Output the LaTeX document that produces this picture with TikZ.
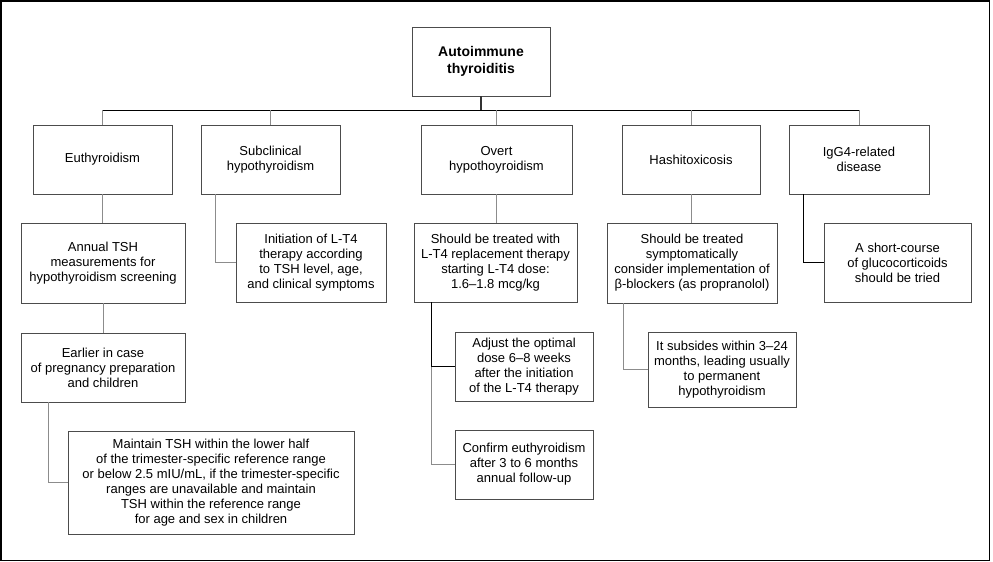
\documentclass[tikz,border=0pt]{standalone}
\usepackage{fontspec}
\setmainfont{Liberation Sans}
\begin{document}
\begin{tikzpicture}[x=1pt,y=-1pt,
  box/.style={draw=black!70, line width=1pt, fill=white, inner sep=0pt, outer sep=0pt,
    align=center, font=\fontsize{13}{15}\selectfont},
  conn/.style={draw=black!45, line width=1pt},
  darkconn/.style={draw=black, line width=1pt}]
\useasboundingbox (0,0) rectangle (993,562);
\draw[line width=1.5pt] (0.75,0.75) rectangle (989.5,560.5);

% level 0
\node[box, minimum width=138pt, minimum height=69pt, font=\fontsize{14}{17}\selectfont\bfseries] (root) at (481,61.5) {Autoimmune\\thyroiditis};

% level 1
\node[box, minimum width=139pt, minimum height=69pt] (eu) at (102.5,159.5) {Euthyroidism};
\node[box, minimum width=139pt, minimum height=69pt] (sub) at (270.5,159.5) {Subclinical\\hypothyroidism};
\node[box, minimum width=151pt, minimum height=69pt] (ovt) at (496.5,159.5) {Overt\\hypothoyroidism};
\node[box, minimum width=138pt, minimum height=69pt] (hash) at (691,159.5) {Hashitoxicosis};
\node[box, minimum width=140pt, minimum height=69pt] (igg) at (859,159.5) {IgG4-related\\disease};

% level 2
\node[box, minimum width=164pt, minimum height=80pt] (annual) at (103,263) {Annual TSH\\measurements for\\hypothyroidism screening};
\node[box, minimum width=150pt, minimum height=79pt] (init) at (311,262.5) {Initiation of L-T4\\therapy according\\to TSH level, age,\\and clinical symptoms};
\node[box, minimum width=163pt, minimum height=79pt] (should) at (495.5,262.5) {Should be treated with\\L-T4 replacement therapy\\starting L-T4 dose:\\1.6–1.8 mcg/kg};
\node[box, minimum width=170pt, minimum height=80pt] (symp) at (692,263) {Should be treated\\symptomatically\\consider implementation of\\β-blockers (as propranolol)};
\node[box, minimum width=147pt, minimum height=79pt] (gluco) at (897.5,262.5) {A short-course\\of glucocorticoids\\should be tried};

% level 3
\node[box, minimum width=164pt, minimum height=69pt] (earlier) at (103,367.5) {Earlier in case\\of pregnancy preparation\\and children};
\node[box, minimum width=138pt, minimum height=69pt] (adjust) at (524,366.5) {Adjust the optimal\\dose 6–8 weeks\\after the initiation\\of the L-T4 therapy};
\node[box, minimum width=148pt, minimum height=75pt] (subsides) at (722,369.5) {It subsides within 3–24\\months, leading usually\\to permanent\\hypothyroidism};
\node[box, minimum width=138pt, minimum height=69pt] (confirm) at (524,464.5) {Confirm euthyroidism\\after 3 to 6 months\\annual follow-up};
\node[box, minimum width=286pt, minimum height=103pt] (maintain) at (211,482.5) {Maintain TSH within the lower half\\of the trimester-specific reference range\\or below 2.5 mIU/mL, if the trimester-specific\\ranges are unavailable and maintain\\TSH within the reference range\\for age and sex in children};

% bus
\coordinate (bus) at (481,110);
\draw[draw=black!80, line width=2pt] (root.south) -- (bus);
\draw[darkconn] (eu.north |- bus) -- (igg.north |- bus);
\foreach \n in {eu,sub,ovt,hash,igg} {
  \draw[conn] (\n.north |- bus) -- (\n.north);
}

% children
\draw[conn] (eu.south) -- (eu.south |- annual.north);
\draw[conn] (annual.south) -- (earlier.north);
\draw[conn] ([xshift=27pt]earlier.south west) |- (maintain.west);
\draw[conn] ([xshift=14pt]sub.south west) |- (init.west);
\draw[conn] (ovt.south) -- (ovt.south |- should.north);
\draw[darkconn] ([xshift=17pt]should.south west) |- (adjust.west);
\draw[conn] ([xshift=17pt]should.south west |- adjust.west) |- (confirm.west);
\draw[conn] (hash.south) -- (hash.south |- symp.north);
\draw[conn] ([xshift=16pt]symp.south west) |- (subsides.west);
\draw[darkconn] ([xshift=14pt]igg.south west) |- (gluco.west);
\end{tikzpicture}
\end{document}
